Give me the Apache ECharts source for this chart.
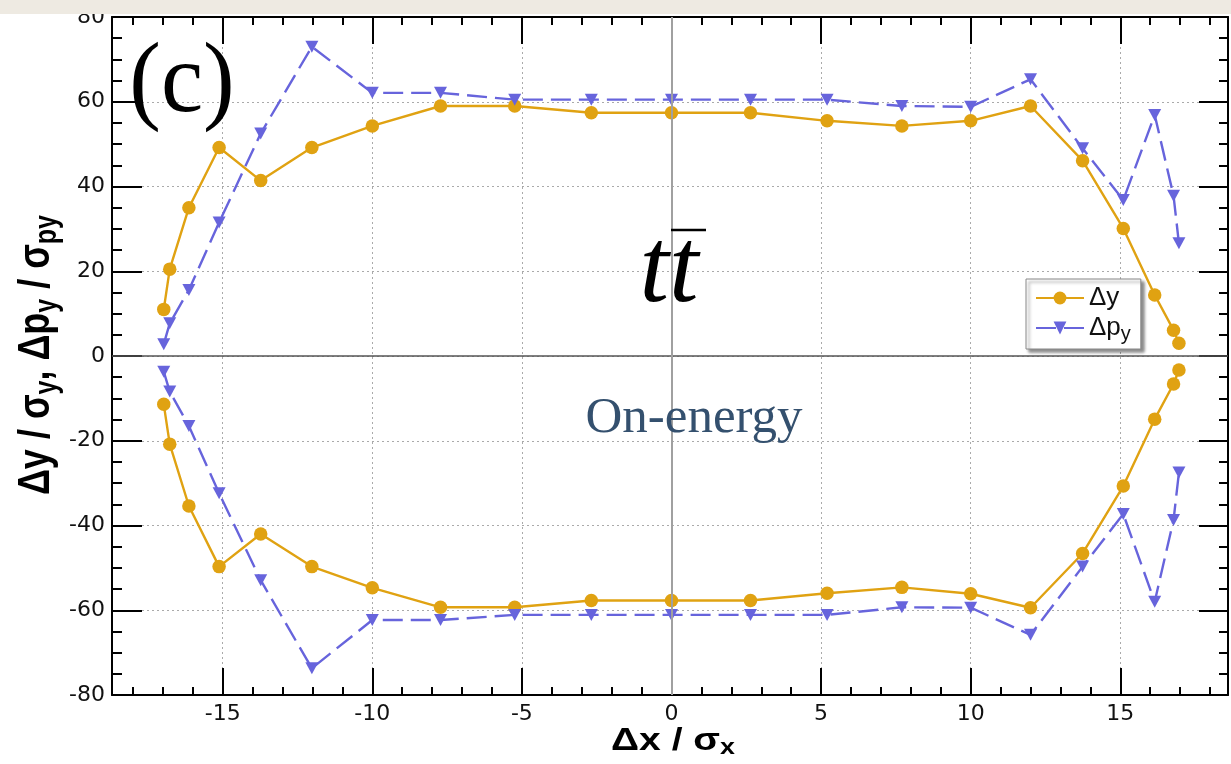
<!DOCTYPE html>
<html>
<head>
<meta charset="utf-8">
<script src="https://cdn.jsdelivr.net/npm/echarts@6/dist/echarts.min.js"></script>
<style>
html,body{margin:0;padding:0;background:#fff;}
#chart{width:1231px;height:764px;}
</style>
</head>
<body>
<div id="chart"></div>
<script>
// ---- data ----
const xVals    = [-16.97,-16.77,-16.13,-15.12,-13.73,-12.02,-10.0,-7.72,-5.24,-2.68,0,2.64,5.2,7.7,10.0,12.0,13.74,15.1,16.15,16.78,16.96];
const dyUpper  = [11.0,20.5,35.0,49.2,41.4,49.2,54.3,59.0,59.0,57.4,57.4,57.4,55.5,54.3,55.5,59.0,46.1,30.1,14.4,6.1,3.0];
const dpyUpper = [2.8,7.7,15.6,31.5,52.5,73.0,62.1,62.1,60.5,60.5,60.5,60.5,60.5,59.0,58.8,65.3,49.0,36.8,56.9,37.8,26.6];
const dyLower  = [-11.4,-20.8,-35.4,-49.7,-42.0,-49.7,-54.7,-59.3,-59.3,-57.7,-57.7,-57.7,-56.0,-54.6,-56.1,-59.4,-46.6,-30.7,-14.9,-6.6,-3.3];
const dpyLower = [-3.7,-8.4,-16.5,-32.4,-52.9,-73.7,-62.3,-62.3,-61.1,-61.1,-61.1,-61.1,-61.1,-59.3,-59.4,-65.8,-49.7,-37.3,-58.0,-38.7,-27.5];
const xMajorTicks = [-15,-10,-5,0,5,10,15];
const xMinorTicks = [-18,-17,-16,-14,-13,-12,-11,-9,-8,-7,-6,-4,-3,-2,-1,1,2,3,4,6,7,8,9,11,12,13,14,16,17,18];
const xRange = [-18.7, 18.6];
const yRange = [-80, 80];
const yStep = 20;
const seriesNames = ['Δy', 'Δpy'];

const ORANGE = '#e0a212';
const BLUE = '#6764dc';
const pairs = (xs, ys) => xs.map((x, i) => [x, ys[i]]);

const chart = echarts.init(document.getElementById('chart'), null, {renderer: 'canvas'});

const tickFont = 'DejaVu Sans';
const black = '#000';

function xAxisDef(pos, ticks, len, labels) {
  return {
    type: 'value', position: pos, min: xRange[0], max: xRange[1],
    axisLine: {show: labels !== null || len > 10, onZero: false, lineStyle: {color: black, width: 2}},
    axisTick: {show: true, inside: true, length: len, customValues: ticks, lineStyle: {color: black, width: 2}},
    axisLabel: labels ? {show: true, customValues: labels, fontFamily: tickFont, fontSize: 22, color: '#111', margin: 8} : {show: false},
    splitLine: (labels ? {show: true, lineStyle: {color: '#aaa', width: 1, type: [2, 3]}} : {show: false}),
    minorTick: {show: false}
  };
}

function yAxisDef(pos, majorLen, minorLen, showLabel) {
  return {
    type: 'value', position: pos, min: yRange[0], max: yRange[1], interval: yStep,
    axisLine: {show: true, onZero: false, lineStyle: {color: black, width: 2}},
    axisTick: {show: true, inside: true, length: majorLen, lineStyle: {color: black, width: 2}},
    minorTick: {show: true, splitNumber: 4, length: minorLen, lineStyle: {color: black, width: 2}},
    axisLabel: {show: showLabel, fontFamily: tickFont, fontSize: 22, color: '#111', margin: 7},
    splitLine: {show: showLabel, lineStyle: {color: '#aaa', width: 1, type: [2, 3]}}
  };
}

const lineCommon = {type: 'line', xAxisIndex: 0, yAxisIndex: 0, animation: false, z: 3};
const dyStyle = {
  symbol: 'circle', symbolSize: 13.5,
  lineStyle: {color: ORANGE, width: 2.4},
  itemStyle: {color: ORANGE}
};
const dpyStyle = {
  symbol: 'triangle', symbolRotate: 180, symbolSize: [13, 12],
  lineStyle: {color: BLUE, width: 2.4, type: [20, 8]},
  itemStyle: {color: BLUE}
};

const option = {
  backgroundColor: '#fff',
  animation: false,
  grid: {left: 112, right: 3, top: 17, bottom: 69, containLabel: false},
  xAxis: [
    xAxisDef('bottom', xMajorTicks, 27, xMajorTicks),
    xAxisDef('bottom', xMinorTicks, 8, null),
    xAxisDef('top', xMajorTicks, 27, null),
    xAxisDef('top', xMinorTicks, 8, null)
  ],
  yAxis: [
    yAxisDef('left', 30, 10, true),
    yAxisDef('right', 29, 9, false)
  ],
  legend: {
    data: seriesNames,
    orient: 'vertical',
    left: 1026, top: 279,
    padding: [5, 10, 5, 9],
    itemWidth: 48, itemHeight: 16, itemGap: 2,
    backgroundColor: '#fff',
    borderColor: '#888', borderWidth: 1,
    shadowColor: 'rgba(0,0,0,0.45)', shadowBlur: 3, shadowOffsetX: 3, shadowOffsetY: 3,
    formatter: n => n === 'Δpy' ? '{b|Δp}{s|y}' : '{b|Δy}',
    textStyle: {
      fontFamily: 'Liberation Sans', fontSize: 26, color: '#111', lineHeight: 28,
      rich: {
        b: {fontFamily: 'Liberation Sans', fontSize: 26, color: '#111'},
        s: {fontFamily: 'Liberation Sans', fontSize: 20, color: '#111', padding: [12, 0, 0, 0]}
      }
    }
  },
  series: [
    Object.assign({}, lineCommon, {
      name: '_zero', data: [], z: 1, silent: true,
      markLine: {
        symbol: 'none', silent: true, animation: false, label: {show: false},
        data: [
          {yAxis: 0, lineStyle: {color: '#555', width: 1.5, type: 'solid'}},
          {xAxis: 0, lineStyle: {color: '#a0a0a0', width: 2, type: 'solid'}}
        ]
      }
    }),
    Object.assign({}, lineCommon, dyStyle, {name: seriesNames[0], data: pairs(xVals, dyUpper)}),
    Object.assign({}, lineCommon, dyStyle, {name: seriesNames[0], data: pairs(xVals, dyLower)}),
    Object.assign({}, lineCommon, dpyStyle, {name: seriesNames[1], data: pairs(xVals, dpyUpper)}),
    Object.assign({}, lineCommon, dpyStyle, {name: seriesNames[1], data: pairs(xVals, dpyLower)})
  ],
  graphic: [
    {type: 'rect', shape: {x: 0, y: 0, width: 1231, height: 14}, style: {fill: '#eeeae2'}, z: 100},
    {type: 'text', x: 182, y: 85, scaleX: 0.95, z: 50,
     style: {text: '(c)', font: '100px "Liberation Serif"', fill: '#000', align: 'center', verticalAlign: 'middle'}},
    {type: 'text', x: 669, y: 273, z: 50,
     style: {text: 'tt', font: 'italic 106px "Liberation Serif"', fill: '#000', align: 'center', verticalAlign: 'middle'}},
    {type: 'line', shape: {x1: 671, y1: 230, x2: 706, y2: 230}, style: {stroke: '#000', lineWidth: 2.5}, z: 50},
    {type: 'text', x: 694, y: 419, z: 50,
     style: {text: 'On-energy', font: '51px "Liberation Serif"', fill: '#34506e', align: 'center', verticalAlign: 'middle'}},
    {type: 'text', x: 673, y: 741, scaleX: 1.22, z: 50,
     style: {
       text: '{b|Δx / σ}{s|x}', align: 'center', verticalAlign: 'middle',
       rich: {
         b: {fontFamily: 'Liberation Sans', fontWeight: 'bold', fontSize: 32, fill: '#000', color: '#000'},
         s: {fontFamily: 'Liberation Sans', fontWeight: 'bold', fontSize: 22, fill: '#000', color: '#000', padding: [14, 0, 0, 0]}
       }
     }},
    {type: 'text', x: 37, y: 355, rotation: Math.PI / 2, scaleY: 1.25, z: 50,
     style: {
       text: '{b|Δy / σ}{s|y}{b|, Δp}{s|y}{b| / σ}{s|py}', align: 'center', verticalAlign: 'middle',
       rich: {
         b: {fontFamily: 'Liberation Sans', fontWeight: 'bold', fontSize: 36, fill: '#000', color: '#000'},
         s: {fontFamily: 'Liberation Sans', fontWeight: 'bold', fontSize: 25, fill: '#000', color: '#000', padding: [16, 0, 0, 0]}
       }
     }}
  ]
};
chart.setOption(option);
</script>
</body>
</html>
